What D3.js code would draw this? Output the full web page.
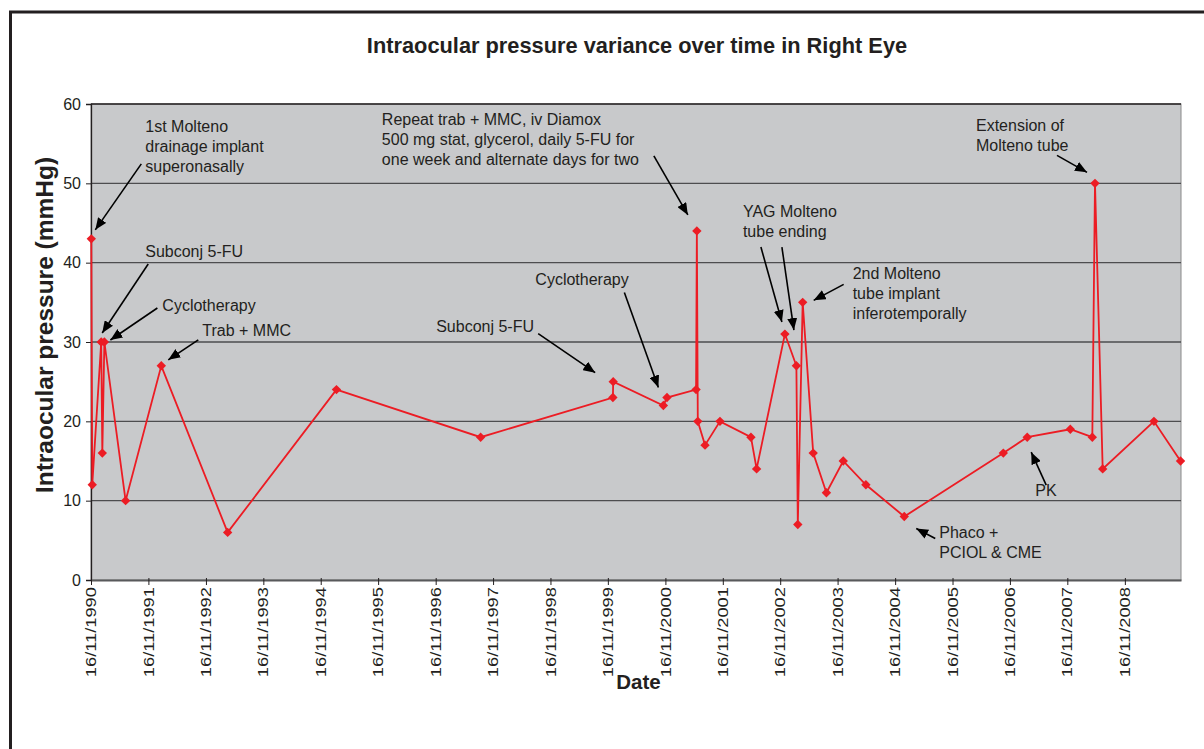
<!DOCTYPE html>
<html>
<head>
<meta charset="utf-8">
<script src="https://cdn.jsdelivr.net/npm/d3@7"></script>
<style>
  body { margin: 0; background: #fff; }
  svg { display: block; font-family: "Liberation Sans", Arial, sans-serif; }
</style>
</head>
<body>
<div id="chart"></div>
<script>
const visitDates = [
    '1990-11-18', '1990-11-24', '1991-01-20', '1991-01-27', '1991-02-09',
    '1991-06-24', '1992-02-06', '1993-04-03', '1995-02-24', '1997-08-29',
    '1999-12-18', '1999-12-20', '2000-11-03', '2000-11-26', '2001-05-30',
    '2001-06-04', '2001-06-10', '2001-07-26', '2001-10-29', '2002-05-14',
    '2002-06-19', '2002-12-16', '2003-02-27', '2003-03-08', '2003-04-08',
    '2003-06-14', '2003-09-06', '2003-12-22', '2004-05-14', '2005-01-13',
    '2006-10-05', '2007-03-06', '2007-12-05', '2008-04-23', '2008-05-10',
    '2008-06-28', '2009-05-20', '2009-11-05'
];
const pressures = [
    43, 12, 30, 16, 30, 10, 27, 6, 24, 18,
    23, 25, 22, 23, 24, 44, 20, 17, 20, 18,
    14, 31, 27, 7, 35, 16, 11, 15, 12, 8,
    16, 18, 19, 18, 50, 14, 20, 15
];
const xTickLabels = [
    '16/11/1990', '16/11/1991', '16/11/1992', '16/11/1993', '16/11/1994',
    '16/11/1995', '16/11/1996', '16/11/1997', '16/11/1998', '16/11/1999',
    '16/11/2000', '16/11/2001', '16/11/2002', '16/11/2003', '16/11/2004',
    '16/11/2005', '16/11/2006', '16/11/2007', '16/11/2008'
];
const yTicks = [0, 10, 20, 30, 40, 50, 60];

// annotations: which reading they point at (index), text lines
const noteTexts = [
    { at: 0, lines: ['1st Molteno', 'drainage implant', 'superonasally'] },
    { at: 2, lines: ['Subconj 5-FU'] },
    { at: 4, lines: ['Cyclotherapy'] },
    { at: 6, lines: ['Trab + MMC'] },
    { at: 15, lines: ['Repeat trab + MMC, iv Diamox', '500 mg stat, glycerol, daily 5-FU for', 'one week and alternate days for two'] },
    { at: 12, lines: ['Cyclotherapy'] },
    { at: 11, lines: ['Subconj 5-FU'] },
    { at: 21, lines: ['YAG Molteno', 'tube ending'] },
    { at: 24, lines: ['2nd Molteno', 'tube implant', 'inferotemporally'] },
    { at: 34, lines: ['Extension of', 'Molteno tube'] },
    { at: 31, lines: ['PK'] },
    { at: 29, lines: ['Phaco +', 'PCIOL & CME'] }
];
// label placement relative to the point it refers to (pixels)
const noteLayout = [
    { text: [54, -107], arrows: [[[50, -75], [4, -9]]] },
    { text: [44, -85], arrows: [[[47, -78], [1, -9]]] },
    { text: [58, -31], arrows: [[[53, -34], [6, -2]]] },
    { text: [41, -30], arrows: [[[37, -26], [7, -6]]] },
    { text: [-315, -106], arrows: [[[-43, -75], [-9, -16]]] },
    { text: [-128, -120], arrows: [[[-39, -113], [-5, -18]]] },
    { text: [-177, -50], arrows: [[[-75, -48], [-18, -9]]] },
    { text: [-42, -117], arrows: [[[-24, -87], [-3, -12]], [[-3, -87], [9, -4]]] },
    { text: [50, -23], arrows: [[[41, -18], [11, -2]]] },
    { text: [-119, -52], arrows: [[[-38, -28], [-8, -11]]] },
    { text: [8, 59], arrows: [[[19, 48], [4, 15]]] },
    { text: [35, 21], arrows: [[[31, 22], [12, 12]]] }
];

const width = 1204, height = 749;
const margin = { left: 91, top: 104, right: 23, bottom: 169 };

const parseIso = d3.timeParse('%Y-%m-%d');
const parseTick = d3.timeParse('%d/%m/%Y');
const data = visitDates.map((d, i) => ({ date: parseIso(d), value: pressures[i] }));

const x = d3.scaleTime()
    .domain([parseTick('16/11/1990'), parseIso('2009-11-08')])
    .range([margin.left, width - margin.right]);
const y = d3.scaleLinear()
    .domain([0, 60])
    .range([height - margin.bottom, margin.top]);

const svg = d3.select('#chart').append('svg')
    .attr('width', width)
    .attr('height', height);

// outer frame (runs off the right and bottom edges like the source)
svg.append('rect')
    .attr('x', 10.5).attr('y', 12)
    .attr('width', 1300).attr('height', 900)
    .attr('fill', 'none')
    .attr('stroke', '#231f20')
    .attr('stroke-width', 3);

// plot area
svg.append('rect')
    .attr('x', x.range()[0]).attr('y', y(60))
    .attr('width', x.range()[1] - x.range()[0])
    .attr('height', y(0) - y(60))
    .attr('fill', '#c8c9cb')
    .attr('stroke', '#8a8a8a')
    .attr('stroke-width', 1);

// gridlines
svg.append('g')
    .selectAll('line').data(yTicks.filter(t => t > 0))
    .enter().append('line')
    .attr('x1', x.range()[0]).attr('x2', x.range()[1])
    .attr('y1', d => y(d)).attr('y2', d => y(d))
    .attr('stroke', d => d === 60 ? '#231f20' : '#4d4d4f')
    .attr('stroke-width', 1.3);

// y axis
const yAxis = svg.append('g')
    .attr('transform', 'translate(' + x.range()[0] + ',0)')
    .call(d3.axisLeft(y).tickValues(yTicks).tickSize(5).tickPadding(5));
yAxis.select('.domain').attr('stroke', '#231f20').attr('stroke-width', 1.3);
yAxis.selectAll('.tick line').attr('stroke', '#231f20');
yAxis.selectAll('text')
    .attr('font-size', 16)
    .attr('fill', '#231f20')
    .style('font-family', '"Liberation Sans", Arial, sans-serif');

// x axis
const xAxis = svg.append('g')
    .attr('transform', 'translate(0,' + y(0) + ')')
    .call(d3.axisBottom(x)
        .tickValues(xTickLabels.map(parseTick))
        .tickFormat(d3.timeFormat('%d/%m/%Y'))
        .tickSize(5).tickSizeOuter(0));
xAxis.select('.domain').attr('stroke', '#58595b').attr('stroke-width', 2);
xAxis.selectAll('.tick line').attr('stroke', '#231f20').attr('y1', -2);
// labels are drawn long and narrow, as in the source
xAxis.selectAll('text')
    .attr('transform', 'rotate(-90) scale(1.18,1)')
    .attr('x', -6).attr('y', 0).attr('dy', '0.3em')
    .attr('font-size', 15.5)
    .attr('fill', '#231f20')
    .style('text-anchor', 'end')
    .style('font-family', '"Liberation Sans", Arial, sans-serif');

// series
const line = d3.line().x(d => x(d.date)).y(d => y(d.value));
svg.append('path')
    .datum(data)
    .attr('d', line)
    .attr('fill', 'none')
    .attr('stroke', '#ec1c24')
    .attr('stroke-width', 1.8);

svg.append('g')
    .selectAll('path').data(data)
    .enter().append('path')
    .attr('d', d3.symbol(d3.symbolSquare, 44))
    .attr('transform', d => 'translate(' + x(d.date) + ',' + y(d.value) + ') rotate(45)')
    .attr('fill', '#ec1c24');

// arrow head
svg.append('defs').append('marker')
    .attr('id', 'head')
    .attr('viewBox', '0 0 12 10')
    .attr('refX', 12).attr('refY', 5)
    .attr('markerUnits', 'userSpaceOnUse')
    .attr('markerWidth', 12).attr('markerHeight', 10)
    .attr('orient', 'auto')
    .append('path')
    .attr('d', 'M0,0 L12,5 L0,10 Z')
    .attr('fill', '#000');

// annotations
const notes = svg.append('g');
noteTexts.forEach((n, i) => {
    const px = x(data[n.at].date), py = y(data[n.at].value);
    const lay = noteLayout[i];
    const t = notes.append('text')
        .attr('x', px + lay.text[0])
        .attr('y', py + lay.text[1])
        .attr('font-size', 16)
        .attr('fill', '#231f20');
    n.lines.forEach((s, k) => {
        t.append('tspan')
            .attr('x', px + lay.text[0])
            .attr('dy', k === 0 ? 0 : 20)
            .text(s);
    });
    lay.arrows.forEach(a => {
        notes.append('line')
            .attr('x1', px + a[0][0]).attr('y1', py + a[0][1])
            .attr('x2', px + a[1][0]).attr('y2', py + a[1][1])
            .attr('stroke', '#000')
            .attr('stroke-width', 1.6)
            .attr('marker-end', 'url(#head)');
    });
});

// titles
svg.append('text')
    .attr('x', 637).attr('y', 53)
    .attr('text-anchor', 'middle')
    .attr('font-size', 21.8)
    .attr('font-weight', 'bold')
    .attr('fill', '#231f20')
    .text('Intraocular pressure variance over time in Right Eye');

svg.append('text')
    .attr('transform', 'translate(53,' + (y(30) - 17) + ') rotate(-90)')
    .attr('text-anchor', 'middle')
    .attr('font-size', 24.5)
    .attr('font-weight', 'bold')
    .attr('fill', '#231f20')
    .text('Intraocular pressure (mmHg)');

svg.append('text')
    .attr('x', 638.5)
    .attr('y', 689)
    .attr('text-anchor', 'middle')
    .attr('font-size', 20.5)
    .attr('font-weight', 'bold')
    .attr('fill', '#231f20')
    .text('Date');
</script>
</body>
</html>
